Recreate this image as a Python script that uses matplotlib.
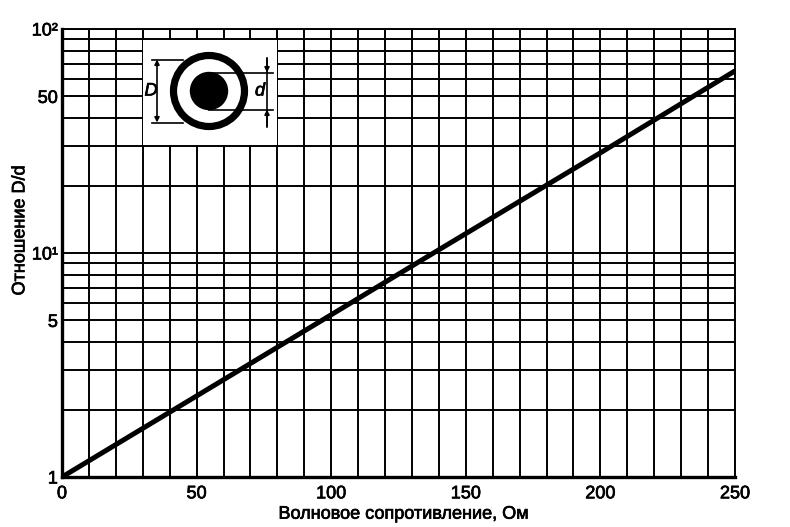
import matplotlib
matplotlib.use('Agg')
import matplotlib.pyplot as plt
import matplotlib.patheffects as pe
from matplotlib.patches import Circle

plt.rcParams['font.family'] = ['Liberation Sans', 'DejaVu Sans']

# Values: characteristic impedance (Ohm) vs D/d
impedance = [0, 50, 100, 138, 200, 250]
ratio = [1.0, 2.3, 5.3, 10.0, 28.0, 65.0]

# Grid / tick layout
x_grid = list(range(0, 251, 10))
y_grid = [1, 2, 3, 4, 5, 6, 7, 8, 9, 10, 20, 30, 40, 50, 60, 70, 80, 90, 100]
x_labeled = [0, 50, 100, 150, 200, 250]
y_labeled = {1: '1', 5: '5', 10: '10¹', 50: '50', 100: '10²'}

# slightly heavier text, like the scanned original
heavy = [pe.withStroke(linewidth=0.5, foreground='black')]

fig = plt.figure(figsize=(7.9, 5.27), dpi=100)
ax = fig.add_axes([0.0785, 0.0949, 0.8519, 0.8501])

ax.plot(impedance, ratio, color='black', linewidth=3.6, solid_capstyle='butt', zorder=3)

ax.set_yscale('log')
ax.set_xlim(0, 250)
ax.set_ylim(1, 100)

ax.set_xticks(x_grid)
ax.set_xticklabels([str(v) if v in x_labeled else '' for v in x_grid], fontsize=13)
ax.set_yticks(y_grid)
ax.set_yticklabels([y_labeled.get(v, '') for v in y_grid], fontsize=13)
ax.minorticks_off()
ax.tick_params(axis='x', length=0, pad=6)
ax.tick_params(axis='y', length=0, pad=3)
for lbl in ax.get_xticklabels() + ax.get_yticklabels():
    lbl.set_path_effects(heavy)

ax.grid(True, color='black', linewidth=1.4)
ax.set_axisbelow(True)

for side in ['top', 'right']:
    ax.spines[side].set_linewidth(1.4)
for side in ['left', 'bottom']:
    ax.spines[side].set_linewidth(2.4)

ax.set_xlabel('Волновое сопротивление, Ом', fontsize=13, path_effects=heavy)
ax.set_ylabel('Отношение D/d', fontsize=13, path_effects=heavy)
ax.xaxis.set_label_coords(0.507, -0.064)
ax.yaxis.set_label_coords(-0.05, 0.55)

# Inset with the coax cross-section (drawn in pixel units of the inset box)
ins = fig.add_axes([143 / 790, 1 - 145 / 527, 134 / 790, 105 / 527])
ins.set_xlim(0, 134)
ins.set_ylim(105, 0)
ins.set_facecolor('white')
ins.set_xticks([])
ins.set_yticks([])
for s in ins.spines.values():
    s.set_visible(False)

cx, cy = 66, 51
ins.add_patch(Circle((cx, cy), 35.5, fill=False, edgecolor='black', linewidth=5.2))
ins.add_patch(Circle((cx, cy), 18.5, facecolor='black', edgecolor='black'))

# D dimension (inner diameter of outer conductor)
ins.plot([9, 40], [19.5, 19.5], color='black', linewidth=1.2)
ins.plot([9, 40], [82.5, 82.5], color='black', linewidth=1.2)
ins.annotate('', xy=(14, 19.5), xytext=(14, 82.5),
             arrowprops=dict(arrowstyle='<|-|>', color='black', lw=1.2,
                             mutation_scale=7, shrinkA=0, shrinkB=0))
ins.text(8, 51, 'D', fontsize=13, style='italic', ha='center', va='center',
         path_effects=heavy)

# d dimension (inner conductor)
ins.plot([cx, 130], [32.5, 32.5], color='black', linewidth=1.2)
ins.plot([cx, 130], [69.5, 69.5], color='black', linewidth=1.2)
ins.plot([124, 124], [18, 87], color='black', linewidth=1.2)
ins.annotate('', xy=(124, 32.5), xytext=(124, 19),
             arrowprops=dict(arrowstyle='-|>', color='black', lw=1.2,
                             mutation_scale=7, shrinkA=0, shrinkB=0))
ins.annotate('', xy=(124, 69.5), xytext=(124, 86),
             arrowprops=dict(arrowstyle='-|>', color='black', lw=1.2,
                             mutation_scale=7, shrinkA=0, shrinkB=0))
ins.text(117, 51, 'd', fontsize=13, style='italic', ha='center', va='center',
         path_effects=heavy)

plt.savefig('out.png', dpi=100)
